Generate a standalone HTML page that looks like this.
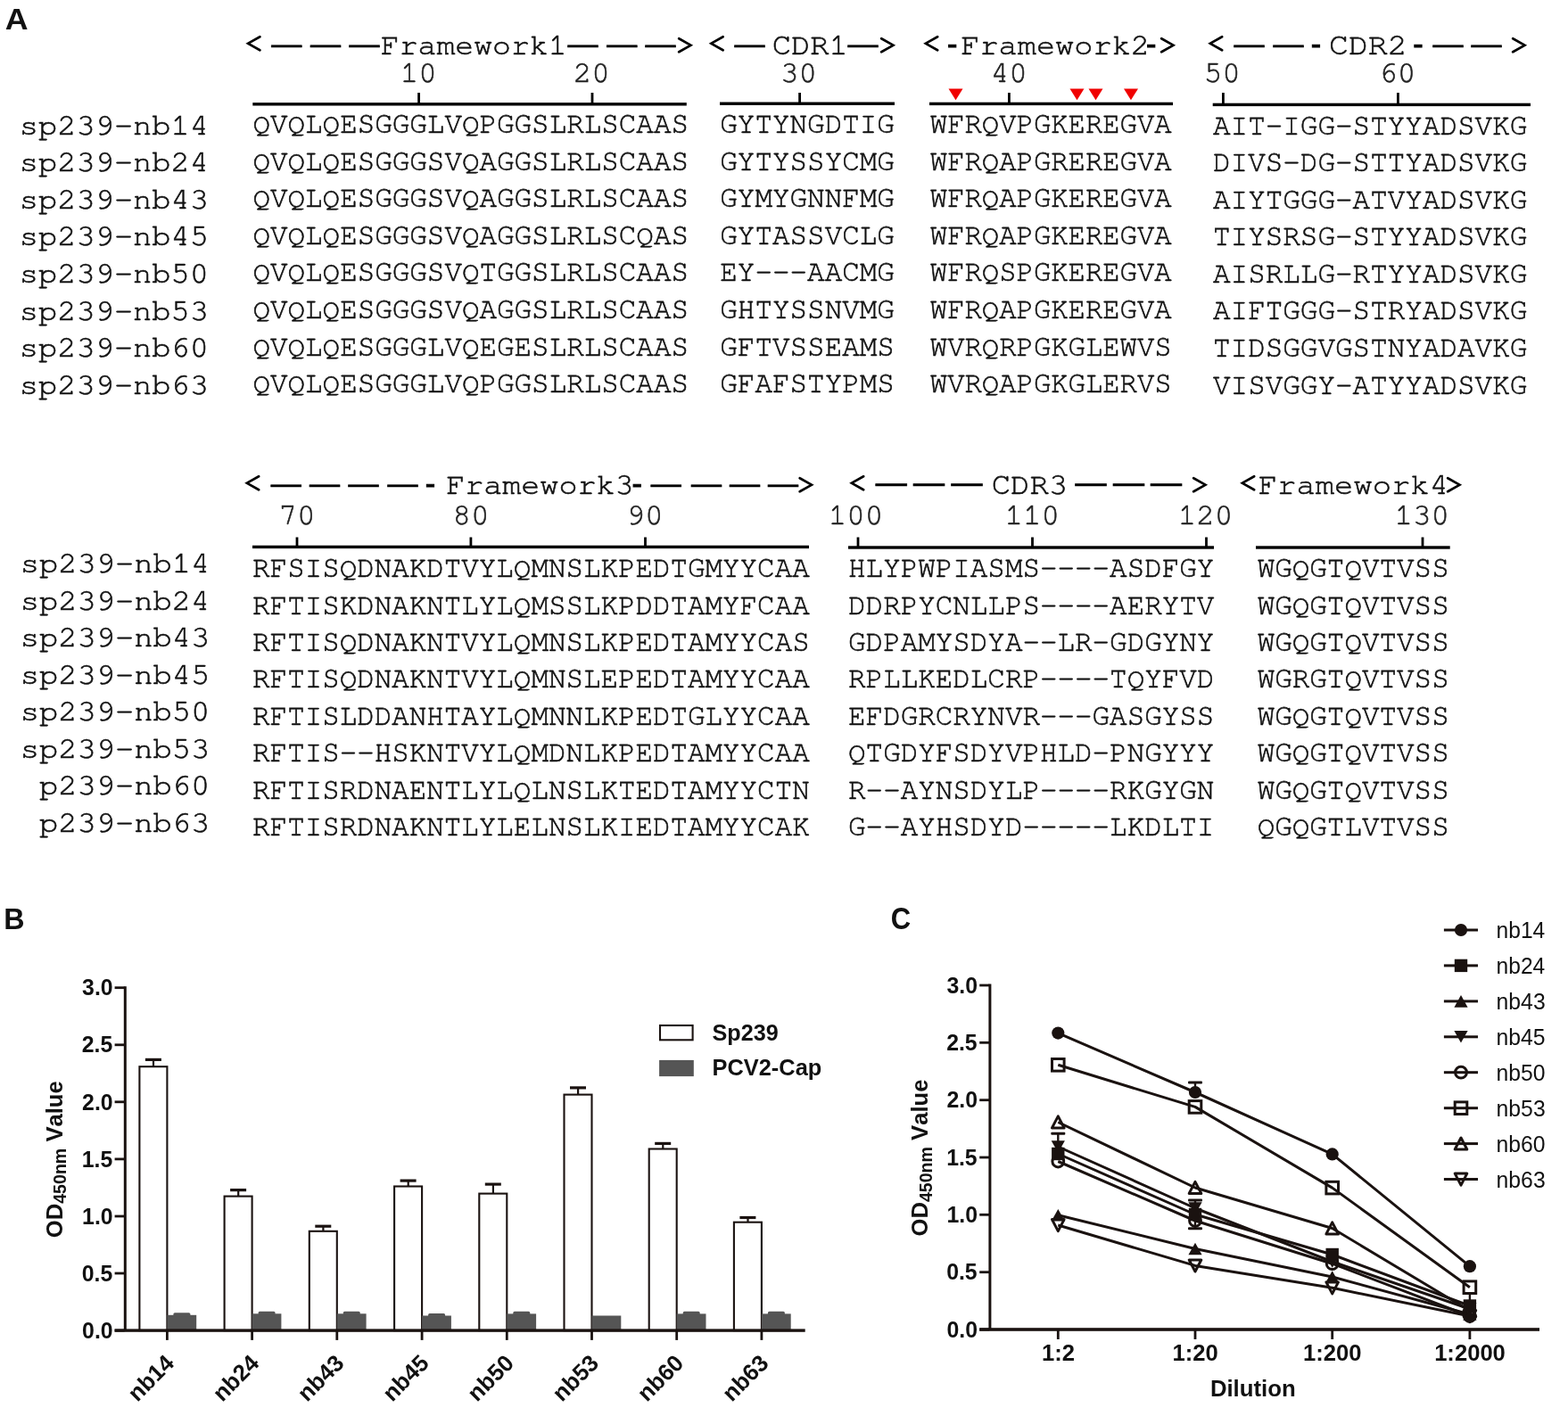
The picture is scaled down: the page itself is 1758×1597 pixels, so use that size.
<!DOCTYPE html>
<html><head><meta charset="utf-8"><title>Figure</title>
<style>html,body{margin:0;padding:0;background:#fff;}svg{display:block;}</style>
</head><body>
<svg width="1758" height="1597" viewBox="0 0 1758 1597">
<style>.m{font-family:'FreeMono','Liberation Mono',monospace;font-size-adjust:cap-height 0.563}</style>
<rect width="1758" height="1597" fill="#fff"/>
<text x="21.86" y="150.6" textLength="212.05" lengthAdjust="spacingAndGlyphs" class="m" font-size="34.2" fill="#111" stroke="#111" stroke-width="0.6">sp239-nb14</text>
<text x="21.86" y="192.2" textLength="212.05" lengthAdjust="spacingAndGlyphs" class="m" font-size="34.2" fill="#111" stroke="#111" stroke-width="0.6">sp239-nb24</text>
<text x="21.86" y="233.8" textLength="212.05" lengthAdjust="spacingAndGlyphs" class="m" font-size="34.2" fill="#111" stroke="#111" stroke-width="0.6">sp239-nb43</text>
<text x="21.86" y="275.4" textLength="212.05" lengthAdjust="spacingAndGlyphs" class="m" font-size="34.2" fill="#111" stroke="#111" stroke-width="0.6">sp239-nb45</text>
<text x="21.86" y="317.0" textLength="212.05" lengthAdjust="spacingAndGlyphs" class="m" font-size="34.2" fill="#111" stroke="#111" stroke-width="0.6">sp239-nb50</text>
<text x="21.86" y="358.6" textLength="212.05" lengthAdjust="spacingAndGlyphs" class="m" font-size="34.2" fill="#111" stroke="#111" stroke-width="0.6">sp239-nb53</text>
<text x="21.86" y="400.2" textLength="212.05" lengthAdjust="spacingAndGlyphs" class="m" font-size="34.2" fill="#111" stroke="#111" stroke-width="0.6">sp239-nb60</text>
<text x="21.86" y="441.8" textLength="212.05" lengthAdjust="spacingAndGlyphs" class="m" font-size="34.2" fill="#111" stroke="#111" stroke-width="0.6">sp239-nb63</text>
<text x="22.85" y="642.4" textLength="212.47" lengthAdjust="spacingAndGlyphs" class="m" font-size="34.2" fill="#111" stroke="#111" stroke-width="0.6">sp239-nb14</text>
<text x="22.85" y="683.9" textLength="212.47" lengthAdjust="spacingAndGlyphs" class="m" font-size="34.2" fill="#111" stroke="#111" stroke-width="0.6">sp239-nb24</text>
<text x="22.85" y="725.4" textLength="212.47" lengthAdjust="spacingAndGlyphs" class="m" font-size="34.2" fill="#111" stroke="#111" stroke-width="0.6">sp239-nb43</text>
<text x="22.85" y="766.9" textLength="212.47" lengthAdjust="spacingAndGlyphs" class="m" font-size="34.2" fill="#111" stroke="#111" stroke-width="0.6">sp239-nb45</text>
<text x="22.85" y="808.4" textLength="212.47" lengthAdjust="spacingAndGlyphs" class="m" font-size="34.2" fill="#111" stroke="#111" stroke-width="0.6">sp239-nb50</text>
<text x="22.85" y="849.9" textLength="212.47" lengthAdjust="spacingAndGlyphs" class="m" font-size="34.2" fill="#111" stroke="#111" stroke-width="0.6">sp239-nb53</text>
<text x="44.10" y="891.4" textLength="191.22" lengthAdjust="spacingAndGlyphs" class="m" font-size="34.2" fill="#111" stroke="#111" stroke-width="0.6">p239-nb60</text>
<text x="44.10" y="932.9" textLength="191.22" lengthAdjust="spacingAndGlyphs" class="m" font-size="34.2" fill="#111" stroke="#111" stroke-width="0.6">p239-nb63</text>
<text x="283.44" y="149.0" textLength="488.56" lengthAdjust="spacingAndGlyphs" class="m" font-size="33.2" fill="#111" stroke="#111" stroke-width="0.6">QVQLQESGGGLVQPGGSLRLSCAAS</text>
<text x="283.44" y="190.6" textLength="488.56" lengthAdjust="spacingAndGlyphs" class="m" font-size="33.2" fill="#111" stroke="#111" stroke-width="0.6">QVQLQESGGGSVQAGGSLRLSCAAS</text>
<text x="283.44" y="232.2" textLength="488.56" lengthAdjust="spacingAndGlyphs" class="m" font-size="33.2" fill="#111" stroke="#111" stroke-width="0.6">QVQLQESGGGSVQAGGSLRLSCAAS</text>
<text x="283.44" y="273.8" textLength="488.56" lengthAdjust="spacingAndGlyphs" class="m" font-size="33.2" fill="#111" stroke="#111" stroke-width="0.6">QVQLQESGGGSVQAGGSLRLSCQAS</text>
<text x="283.44" y="315.4" textLength="488.56" lengthAdjust="spacingAndGlyphs" class="m" font-size="33.2" fill="#111" stroke="#111" stroke-width="0.6">QVQLQESGGGSVQTGGSLRLSCAAS</text>
<text x="283.44" y="357.0" textLength="488.56" lengthAdjust="spacingAndGlyphs" class="m" font-size="33.2" fill="#111" stroke="#111" stroke-width="0.6">QVQLQESGGGSVQAGGSLRLSCAAS</text>
<text x="283.44" y="398.6" textLength="488.56" lengthAdjust="spacingAndGlyphs" class="m" font-size="33.2" fill="#111" stroke="#111" stroke-width="0.6">QVQLQESGGGLVQEGESLRLSCAAS</text>
<text x="283.44" y="440.2" textLength="488.56" lengthAdjust="spacingAndGlyphs" class="m" font-size="33.2" fill="#111" stroke="#111" stroke-width="0.6">QVQLQESGGGLVQPGGSLRLSCAAS</text>
<text x="807.25" y="149.0" textLength="195.69" lengthAdjust="spacingAndGlyphs" class="m" font-size="33.2" fill="#111" stroke="#111" stroke-width="0.6">GYTYNGDTIG</text>
<text x="807.25" y="190.6" textLength="195.69" lengthAdjust="spacingAndGlyphs" class="m" font-size="33.2" fill="#111" stroke="#111" stroke-width="0.6">GYTYSSYCMG</text>
<text x="807.25" y="232.2" textLength="195.69" lengthAdjust="spacingAndGlyphs" class="m" font-size="33.2" fill="#111" stroke="#111" stroke-width="0.6">GYMYGNNFMG</text>
<text x="807.25" y="273.8" textLength="195.69" lengthAdjust="spacingAndGlyphs" class="m" font-size="33.2" fill="#111" stroke="#111" stroke-width="0.6">GYTASSVCLG</text>
<text x="807.25" y="315.4" textLength="195.69" lengthAdjust="spacingAndGlyphs" class="m" font-size="33.2" fill="#111" stroke="#111" stroke-width="0.6">EY---AACMG</text>
<text x="807.25" y="357.0" textLength="195.69" lengthAdjust="spacingAndGlyphs" class="m" font-size="33.2" fill="#111" stroke="#111" stroke-width="0.6">GHTYSSNVMG</text>
<text x="807.25" y="398.6" textLength="195.69" lengthAdjust="spacingAndGlyphs" class="m" font-size="33.2" fill="#111" stroke="#111" stroke-width="0.6">GFTVSSEAMS</text>
<text x="807.25" y="440.2" textLength="195.69" lengthAdjust="spacingAndGlyphs" class="m" font-size="33.2" fill="#111" stroke="#111" stroke-width="0.6">GFAFSTYPMS</text>
<text x="1042.86" y="149.0" textLength="270.73" lengthAdjust="spacingAndGlyphs" class="m" font-size="33.2" fill="#111" stroke="#111" stroke-width="0.6">WFRQVPGKEREGVA</text>
<text x="1042.86" y="190.6" textLength="270.73" lengthAdjust="spacingAndGlyphs" class="m" font-size="33.2" fill="#111" stroke="#111" stroke-width="0.6">WFRQAPGREREGVA</text>
<text x="1042.86" y="232.2" textLength="270.73" lengthAdjust="spacingAndGlyphs" class="m" font-size="33.2" fill="#111" stroke="#111" stroke-width="0.6">WFRQAPGKEREGVA</text>
<text x="1042.86" y="273.8" textLength="270.73" lengthAdjust="spacingAndGlyphs" class="m" font-size="33.2" fill="#111" stroke="#111" stroke-width="0.6">WFRQAPGKEREGVA</text>
<text x="1042.86" y="315.4" textLength="270.73" lengthAdjust="spacingAndGlyphs" class="m" font-size="33.2" fill="#111" stroke="#111" stroke-width="0.6">WFRQSPGKEREGVA</text>
<text x="1042.86" y="357.0" textLength="270.73" lengthAdjust="spacingAndGlyphs" class="m" font-size="33.2" fill="#111" stroke="#111" stroke-width="0.6">WFRQAPGKEREGVA</text>
<text x="1042.86" y="398.6" textLength="270.73" lengthAdjust="spacingAndGlyphs" class="m" font-size="33.2" fill="#111" stroke="#111" stroke-width="0.6">WVRQRPGKGLEWVS</text>
<text x="1042.86" y="440.2" textLength="270.73" lengthAdjust="spacingAndGlyphs" class="m" font-size="33.2" fill="#111" stroke="#111" stroke-width="0.6">WVRQAPGKGLERVS</text>
<text x="1360.01" y="150.6" textLength="352.33" lengthAdjust="spacingAndGlyphs" class="m" font-size="33.2" fill="#111" stroke="#111" stroke-width="0.6">AIT-IGG-STYYADSVKG</text>
<text x="1360.01" y="192.2" textLength="352.33" lengthAdjust="spacingAndGlyphs" class="m" font-size="33.2" fill="#111" stroke="#111" stroke-width="0.6">DIVS-DG-STTYADSVKG</text>
<text x="1360.01" y="233.7" textLength="352.33" lengthAdjust="spacingAndGlyphs" class="m" font-size="33.2" fill="#111" stroke="#111" stroke-width="0.6">AIYTGGG-ATVYADSVKG</text>
<text x="1360.01" y="275.3" textLength="352.33" lengthAdjust="spacingAndGlyphs" class="m" font-size="33.2" fill="#111" stroke="#111" stroke-width="0.6">TIYSRSG-STYYADSVKG</text>
<text x="1360.01" y="316.9" textLength="352.33" lengthAdjust="spacingAndGlyphs" class="m" font-size="33.2" fill="#111" stroke="#111" stroke-width="0.6">AISRLLG-RTYYADSVKG</text>
<text x="1360.01" y="358.4" textLength="352.33" lengthAdjust="spacingAndGlyphs" class="m" font-size="33.2" fill="#111" stroke="#111" stroke-width="0.6">AIFTGGG-STRYADSVKG</text>
<text x="1360.01" y="400.0" textLength="352.33" lengthAdjust="spacingAndGlyphs" class="m" font-size="33.2" fill="#111" stroke="#111" stroke-width="0.6">TIDSGGVGSTNYADAVKG</text>
<text x="1360.01" y="441.6" textLength="352.33" lengthAdjust="spacingAndGlyphs" class="m" font-size="33.2" fill="#111" stroke="#111" stroke-width="0.6">VISVGGY-ATYYADSVKG</text>
<text x="283.10" y="647.1" textLength="624.59" lengthAdjust="spacingAndGlyphs" class="m" font-size="33.2" fill="#111" stroke="#111" stroke-width="0.6">RFSISQDNAKDTVYLQMNSLKPEDTGMYYCAA</text>
<text x="283.10" y="688.5" textLength="624.59" lengthAdjust="spacingAndGlyphs" class="m" font-size="33.2" fill="#111" stroke="#111" stroke-width="0.6">RFTISKDNAKNTLYLQMSSLKPDDTAMYFCAA</text>
<text x="283.10" y="729.9" textLength="624.59" lengthAdjust="spacingAndGlyphs" class="m" font-size="33.2" fill="#111" stroke="#111" stroke-width="0.6">RFTISQDNAKNTVYLQMNSLKPEDTAMYYCAS</text>
<text x="283.10" y="771.3" textLength="624.59" lengthAdjust="spacingAndGlyphs" class="m" font-size="33.2" fill="#111" stroke="#111" stroke-width="0.6">RFTISQDNAKNTVYLQMNSLEPEDTAMYYCAA</text>
<text x="283.10" y="812.7" textLength="624.59" lengthAdjust="spacingAndGlyphs" class="m" font-size="33.2" fill="#111" stroke="#111" stroke-width="0.6">RFTISLDDANHTAYLQMNNLKPEDTGLYYCAA</text>
<text x="283.10" y="854.1" textLength="624.59" lengthAdjust="spacingAndGlyphs" class="m" font-size="33.2" fill="#111" stroke="#111" stroke-width="0.6">RFTIS--HSKNTVYLQMDNLKPEDTAMYYCAA</text>
<text x="283.10" y="895.5" textLength="624.59" lengthAdjust="spacingAndGlyphs" class="m" font-size="33.2" fill="#111" stroke="#111" stroke-width="0.6">RFTISRDNAENTLYLQLNSLKTEDTAMYYCTN</text>
<text x="283.10" y="936.9" textLength="624.59" lengthAdjust="spacingAndGlyphs" class="m" font-size="33.2" fill="#111" stroke="#111" stroke-width="0.6">RFTISRDNAKNTLYLELNSLKIEDTAMYYCAK</text>
<text x="951.07" y="647.1" textLength="410.29" lengthAdjust="spacingAndGlyphs" class="m" font-size="33.2" fill="#111" stroke="#111" stroke-width="0.6">HLYPWPIASMS----ASDFGY</text>
<text x="951.07" y="688.5" textLength="410.29" lengthAdjust="spacingAndGlyphs" class="m" font-size="33.2" fill="#111" stroke="#111" stroke-width="0.6">DDRPYCNLLPS----AERYTV</text>
<text x="951.07" y="729.9" textLength="410.29" lengthAdjust="spacingAndGlyphs" class="m" font-size="33.2" fill="#111" stroke="#111" stroke-width="0.6">GDPAMYSDYA--LR-GDGYNY</text>
<text x="951.07" y="771.3" textLength="410.29" lengthAdjust="spacingAndGlyphs" class="m" font-size="33.2" fill="#111" stroke="#111" stroke-width="0.6">RPLLKEDLCRP----TQYFVD</text>
<text x="951.07" y="812.7" textLength="410.29" lengthAdjust="spacingAndGlyphs" class="m" font-size="33.2" fill="#111" stroke="#111" stroke-width="0.6">EFDGRCRYNVR---GASGYSS</text>
<text x="951.07" y="854.1" textLength="410.29" lengthAdjust="spacingAndGlyphs" class="m" font-size="33.2" fill="#111" stroke="#111" stroke-width="0.6">QTGDYFSDYVPHLD-PNGYYY</text>
<text x="951.07" y="895.5" textLength="410.29" lengthAdjust="spacingAndGlyphs" class="m" font-size="33.2" fill="#111" stroke="#111" stroke-width="0.6">R--AYNSDYLP----RKGYGN</text>
<text x="951.07" y="936.9" textLength="410.29" lengthAdjust="spacingAndGlyphs" class="m" font-size="33.2" fill="#111" stroke="#111" stroke-width="0.6">G--AYHSDYD-----LKDLTI</text>
<text x="1409.65" y="647.1" textLength="215.05" lengthAdjust="spacingAndGlyphs" class="m" font-size="33.2" fill="#111" stroke="#111" stroke-width="0.6">WGQGTQVTVSS</text>
<text x="1409.65" y="688.5" textLength="215.05" lengthAdjust="spacingAndGlyphs" class="m" font-size="33.2" fill="#111" stroke="#111" stroke-width="0.6">WGQGTQVTVSS</text>
<text x="1409.65" y="729.9" textLength="215.05" lengthAdjust="spacingAndGlyphs" class="m" font-size="33.2" fill="#111" stroke="#111" stroke-width="0.6">WGQGTQVTVSS</text>
<text x="1409.65" y="771.3" textLength="215.05" lengthAdjust="spacingAndGlyphs" class="m" font-size="33.2" fill="#111" stroke="#111" stroke-width="0.6">WGRGTQVTVSS</text>
<text x="1409.65" y="812.7" textLength="215.05" lengthAdjust="spacingAndGlyphs" class="m" font-size="33.2" fill="#111" stroke="#111" stroke-width="0.6">WGQGTQVTVSS</text>
<text x="1409.65" y="854.1" textLength="215.05" lengthAdjust="spacingAndGlyphs" class="m" font-size="33.2" fill="#111" stroke="#111" stroke-width="0.6">WGQGTQVTVSS</text>
<text x="1409.65" y="895.5" textLength="215.05" lengthAdjust="spacingAndGlyphs" class="m" font-size="33.2" fill="#111" stroke="#111" stroke-width="0.6">WGQGTQVTVSS</text>
<text x="1409.65" y="936.9" textLength="215.05" lengthAdjust="spacingAndGlyphs" class="m" font-size="33.2" fill="#111" stroke="#111" stroke-width="0.6">QGQGTLVTVSS</text>
<rect x="283.3" y="115.1" width="486.5" height="3.4" fill="#000"/>
<rect x="468.2" y="104" width="2.8" height="12.8" fill="#000"/>
<rect x="662.6" y="104" width="2.8" height="12.8" fill="#000"/>
<rect x="807.0" y="114.5" width="196.0" height="3.4" fill="#000"/>
<rect x="895.2" y="104" width="2.8" height="12.2" fill="#000"/>
<rect x="1042.0" y="114.7" width="273.0" height="3.4" fill="#000"/>
<rect x="1130.0" y="104" width="2.8" height="12.4" fill="#000"/>
<rect x="1359.7" y="115.7" width="356.3" height="3.4" fill="#000"/>
<rect x="1370.0" y="104" width="2.8" height="13.4" fill="#000"/>
<rect x="1566.0" y="104" width="2.8" height="13.4" fill="#000"/>
<rect x="283.0" y="611.7" width="624.0" height="3.4" fill="#000"/>
<rect x="331.6" y="602.5" width="2.8" height="10.9" fill="#000"/>
<rect x="526.5" y="602.5" width="2.8" height="10.9" fill="#000"/>
<rect x="722.1" y="602.5" width="2.8" height="10.9" fill="#000"/>
<rect x="951.0" y="612.3" width="410.0" height="3.4" fill="#000"/>
<rect x="960.6" y="602.5" width="2.8" height="11.5" fill="#000"/>
<rect x="1156.1" y="602.5" width="2.8" height="11.5" fill="#000"/>
<rect x="1351.1" y="602.5" width="2.8" height="11.5" fill="#000"/>
<rect x="1408.0" y="612.3" width="217.7" height="3.4" fill="#000"/>
<rect x="1593.6" y="602.5" width="2.8" height="11.5" fill="#000"/>
<text x="469.3" y="92.0" text-anchor="middle" class="m" font-size="34.2" fill="#222" stroke="#222" stroke-width="0.6">10</text>
<text x="663.3" y="92.0" text-anchor="middle" class="m" font-size="34.2" fill="#222" stroke="#222" stroke-width="0.6">20</text>
<text x="895.6" y="92.0" text-anchor="middle" class="m" font-size="34.2" fill="#222" stroke="#222" stroke-width="0.6">30</text>
<text x="1131.2" y="92.0" text-anchor="middle" class="m" font-size="34.2" fill="#222" stroke="#222" stroke-width="0.6">40</text>
<text x="1370.2" y="92.0" text-anchor="middle" class="m" font-size="34.2" fill="#222" stroke="#222" stroke-width="0.6">50</text>
<text x="1566.8" y="92.0" text-anchor="middle" class="m" font-size="34.2" fill="#222" stroke="#222" stroke-width="0.6">60</text>
<text x="333.0" y="588.3" text-anchor="middle" class="m" font-size="34.2" fill="#222" stroke="#222" stroke-width="0.6">70</text>
<text x="528.0" y="588.3" text-anchor="middle" class="m" font-size="34.2" fill="#222" stroke="#222" stroke-width="0.6">80</text>
<text x="723.0" y="588.3" text-anchor="middle" class="m" font-size="34.2" fill="#222" stroke="#222" stroke-width="0.6">90</text>
<text x="959.5" y="588.3" text-anchor="middle" class="m" font-size="34.2" fill="#222" stroke="#222" stroke-width="0.6">100</text>
<text x="1157.2" y="588.3" text-anchor="middle" class="m" font-size="34.2" fill="#222" stroke="#222" stroke-width="0.6">110</text>
<text x="1351.6" y="588.3" text-anchor="middle" class="m" font-size="34.2" fill="#222" stroke="#222" stroke-width="0.6">120</text>
<text x="1594.2" y="588.3" text-anchor="middle" class="m" font-size="34.2" fill="#222" stroke="#222" stroke-width="0.6">130</text>
<polygon points="1063.5,99.5 1079.5,99.5 1071.5,112.2" fill="#f00000"/>
<polygon points="1199.5,99.5 1215.5,99.5 1207.5,112.2" fill="#f00000"/>
<polygon points="1220.5,99.5 1236.5,99.5 1228.5,112.2" fill="#f00000"/>
<polygon points="1260.0,99.5 1276.0,99.5 1268.0,112.2" fill="#f00000"/>
<text x="274.3" y="58.7" class="m" font-size="34.3" fill="#000" stroke="#000" stroke-width="1.3">&lt;</text>
<text x="304.3" y="59.7" font-family="'Liberation Sans',Arial,sans-serif" font-size="34" fill="#000" stroke="#000" stroke-width="0.7">&#8212;</text>
<text x="347.9" y="59.7" font-family="'Liberation Sans',Arial,sans-serif" font-size="34" fill="#000" stroke="#000" stroke-width="0.7">&#8212;</text>
<text x="391.4" y="59.7" font-family="'Liberation Sans',Arial,sans-serif" font-size="34" fill="#000" stroke="#000" stroke-width="0.7">&#8212;</text>
<text x="426.80" y="60.5" textLength="208.73" lengthAdjust="spacingAndGlyphs" class="m" font-size="34.3" fill="#111" stroke="#111" stroke-width="0.6">Framework1</text>
<text x="636.4" y="59.7" font-family="'Liberation Sans',Arial,sans-serif" font-size="34" fill="#000" stroke="#000" stroke-width="0.7">&#8212;</text>
<text x="680.2" y="59.7" font-family="'Liberation Sans',Arial,sans-serif" font-size="34" fill="#000" stroke="#000" stroke-width="0.7">&#8212;</text>
<text x="723.4" y="59.7" font-family="'Liberation Sans',Arial,sans-serif" font-size="34" fill="#000" stroke="#000" stroke-width="0.7">&#8212;</text>
<text x="757.8" y="60.5" class="m" font-size="34.3" fill="#000" stroke="#000" stroke-width="1.3">&gt;</text>
<text x="793.5" y="58.7" class="m" font-size="34.3" fill="#000" stroke="#000" stroke-width="1.3">&lt;</text>
<text x="823.5" y="59.7" font-family="'Liberation Sans',Arial,sans-serif" font-size="34" fill="#000" stroke="#000" stroke-width="0.7">&#8212;</text>
<text x="865.66" y="60.5" textLength="85.25" lengthAdjust="spacingAndGlyphs" class="m" font-size="34.3" fill="#111" stroke="#111" stroke-width="0.6">CDR1</text>
<text x="950.4" y="59.7" font-family="'Liberation Sans',Arial,sans-serif" font-size="34" fill="#000" stroke="#000" stroke-width="0.7">&#8212;</text>
<text x="984.8" y="60.5" class="m" font-size="34.3" fill="#000" stroke="#000" stroke-width="1.3">&gt;</text>
<text x="1034.0" y="58.7" class="m" font-size="34.3" fill="#000" stroke="#000" stroke-width="1.3">&lt;</text>
<text x="1062.0" y="60.5" font-family="'Liberation Sans',Arial,sans-serif" font-size="34.3" fill="#000" stroke="#000" stroke-width="0.9">-</text>
<text x="1077.28" y="60.5" textLength="211.72" lengthAdjust="spacingAndGlyphs" class="m" font-size="34.3" fill="#111" stroke="#111" stroke-width="0.6">Framework2</text>
<text x="1285.0" y="60.5" font-family="'Liberation Sans',Arial,sans-serif" font-size="34.3" fill="#000" stroke="#000" stroke-width="0.9">-</text>
<text x="1298.8" y="60.5" class="m" font-size="34.3" fill="#000" stroke="#000" stroke-width="1.3">&gt;</text>
<text x="1353.1" y="58.7" class="m" font-size="34.3" fill="#000" stroke="#000" stroke-width="1.3">&lt;</text>
<text x="1383.6" y="59.7" font-family="'Liberation Sans',Arial,sans-serif" font-size="34" fill="#000" stroke="#000" stroke-width="0.7">&#8212;</text>
<text x="1427.4" y="59.7" font-family="'Liberation Sans',Arial,sans-serif" font-size="34" fill="#000" stroke="#000" stroke-width="0.7">&#8212;</text>
<text x="1469.7" y="60.5" font-family="'Liberation Sans',Arial,sans-serif" font-size="34.3" fill="#000" stroke="#000" stroke-width="0.9">-</text>
<text x="1490.00" y="60.5" textLength="87.66" lengthAdjust="spacingAndGlyphs" class="m" font-size="34.3" fill="#111" stroke="#111" stroke-width="0.6">CDR2</text>
<text x="1584.2" y="60.5" font-family="'Liberation Sans',Arial,sans-serif" font-size="34.3" fill="#000" stroke="#000" stroke-width="0.9">-</text>
<text x="1606.4" y="59.7" font-family="'Liberation Sans',Arial,sans-serif" font-size="34" fill="#000" stroke="#000" stroke-width="0.7">&#8212;</text>
<text x="1649.5" y="59.7" font-family="'Liberation Sans',Arial,sans-serif" font-size="34" fill="#000" stroke="#000" stroke-width="0.7">&#8212;</text>
<text x="1692.8" y="60.5" class="m" font-size="34.3" fill="#000" stroke="#000" stroke-width="1.3">&gt;</text>
<text x="273.1" y="552.1" class="m" font-size="34.3" fill="#000" stroke="#000" stroke-width="1.3">&lt;</text>
<text x="303.8" y="553.1" font-family="'Liberation Sans',Arial,sans-serif" font-size="34" fill="#000" stroke="#000" stroke-width="0.7">&#8212;</text>
<text x="347.0" y="553.1" font-family="'Liberation Sans',Arial,sans-serif" font-size="34" fill="#000" stroke="#000" stroke-width="0.7">&#8212;</text>
<text x="390.5" y="553.1" font-family="'Liberation Sans',Arial,sans-serif" font-size="34" fill="#000" stroke="#000" stroke-width="0.7">&#8212;</text>
<text x="434.5" y="553.1" font-family="'Liberation Sans',Arial,sans-serif" font-size="34" fill="#000" stroke="#000" stroke-width="0.7">&#8212;</text>
<text x="476.8" y="553.9" font-family="'Liberation Sans',Arial,sans-serif" font-size="34.3" fill="#000" stroke="#000" stroke-width="0.9">-</text>
<text x="500.19" y="553.9" textLength="210.35" lengthAdjust="spacingAndGlyphs" class="m" font-size="34.3" fill="#111" stroke="#111" stroke-width="0.6">Framework3</text>
<text x="708.5" y="553.9" font-family="'Liberation Sans',Arial,sans-serif" font-size="34.3" fill="#000" stroke="#000" stroke-width="0.9">-</text>
<text x="729.8" y="553.1" font-family="'Liberation Sans',Arial,sans-serif" font-size="34" fill="#000" stroke="#000" stroke-width="0.7">&#8212;</text>
<text x="775.0" y="553.1" font-family="'Liberation Sans',Arial,sans-serif" font-size="34" fill="#000" stroke="#000" stroke-width="0.7">&#8212;</text>
<text x="818.0" y="553.1" font-family="'Liberation Sans',Arial,sans-serif" font-size="34" fill="#000" stroke="#000" stroke-width="0.7">&#8212;</text>
<text x="861.0" y="553.1" font-family="'Liberation Sans',Arial,sans-serif" font-size="34" fill="#000" stroke="#000" stroke-width="0.7">&#8212;</text>
<text x="893.3" y="553.9" class="m" font-size="34.3" fill="#000" stroke="#000" stroke-width="1.3">&gt;</text>
<text x="951.0" y="552.1" class="m" font-size="34.3" fill="#000" stroke="#000" stroke-width="1.3">&lt;</text>
<text x="981.8" y="553.1" font-family="'Liberation Sans',Arial,sans-serif" font-size="35" fill="#000" stroke="#000" stroke-width="0.7">&#8212;</text>
<text x="1024.0" y="553.1" font-family="'Liberation Sans',Arial,sans-serif" font-size="35" fill="#000" stroke="#000" stroke-width="0.7">&#8212;</text>
<text x="1066.6" y="553.1" font-family="'Liberation Sans',Arial,sans-serif" font-size="35" fill="#000" stroke="#000" stroke-width="0.7">&#8212;</text>
<text x="1111.76" y="553.9" textLength="85.33" lengthAdjust="spacingAndGlyphs" class="m" font-size="34.3" fill="#111" stroke="#111" stroke-width="0.6">CDR3</text>
<text x="1205.5" y="553.1" font-family="'Liberation Sans',Arial,sans-serif" font-size="35" fill="#000" stroke="#000" stroke-width="0.7">&#8212;</text>
<text x="1248.0" y="553.1" font-family="'Liberation Sans',Arial,sans-serif" font-size="35" fill="#000" stroke="#000" stroke-width="0.7">&#8212;</text>
<text x="1290.0" y="553.1" font-family="'Liberation Sans',Arial,sans-serif" font-size="35" fill="#000" stroke="#000" stroke-width="0.7">&#8212;</text>
<text x="1334.7" y="553.9" class="m" font-size="34.3" fill="#000" stroke="#000" stroke-width="1.3">&gt;</text>
<text x="1389.1" y="552.1" class="m" font-size="34.3" fill="#000" stroke="#000" stroke-width="1.3">&lt;</text>
<text x="1410.77" y="553.9" textLength="213.26" lengthAdjust="spacingAndGlyphs" class="m" font-size="34.3" fill="#111" stroke="#111" stroke-width="0.6">Framework4</text>
<text x="1619.7" y="553.9" class="m" font-size="34.3" fill="#000" stroke="#000" stroke-width="1.3">&gt;</text>
<text x="5.71" y="32.60" textLength="25.84" lengthAdjust="spacingAndGlyphs" font-family="'Liberation Sans',Arial,sans-serif" font-weight="bold" font-size="33.8" fill="#111" style="font-kerning:none" >A</text>
<text x="4.34" y="1041.60" textLength="23.33" lengthAdjust="spacingAndGlyphs" font-family="'Liberation Sans',Arial,sans-serif" font-weight="bold" font-size="33.8" fill="#111" style="font-kerning:none" >B</text>
<text x="998.73" y="1042.20" textLength="22.42" lengthAdjust="spacingAndGlyphs" font-family="'Liberation Sans',Arial,sans-serif" font-weight="bold" font-size="34.5" fill="#111" style="font-kerning:none" >C</text>
<rect x="138.8" y="1106.2" width="3" height="385.9" fill="#1a1210"/>
<rect x="128.6" y="1490.7" width="11" height="2.8" fill="#1a1210"/>
<text x="92.10" y="1500.80" textLength="34.52" lengthAdjust="spacingAndGlyphs" font-family="'Liberation Sans',Arial,sans-serif" font-weight="bold" font-size="26.0" fill="#111" style="font-kerning:none">0.0</text>
<rect x="128.6" y="1426.6" width="11" height="2.8" fill="#1a1210"/>
<text x="91.77" y="1436.73" textLength="34.52" lengthAdjust="spacingAndGlyphs" font-family="'Liberation Sans',Arial,sans-serif" font-weight="bold" font-size="26.0" fill="#111" style="font-kerning:none">0.5</text>
<rect x="128.6" y="1362.6" width="11" height="2.8" fill="#1a1210"/>
<text x="92.10" y="1372.67" textLength="34.52" lengthAdjust="spacingAndGlyphs" font-family="'Liberation Sans',Arial,sans-serif" font-weight="bold" font-size="26.0" fill="#111" style="font-kerning:none">1.0</text>
<rect x="128.6" y="1298.5" width="11" height="2.8" fill="#1a1210"/>
<text x="91.77" y="1308.61" textLength="34.52" lengthAdjust="spacingAndGlyphs" font-family="'Liberation Sans',Arial,sans-serif" font-weight="bold" font-size="26.0" fill="#111" style="font-kerning:none">1.5</text>
<rect x="128.6" y="1234.4" width="11" height="2.8" fill="#1a1210"/>
<text x="92.10" y="1244.54" textLength="34.52" lengthAdjust="spacingAndGlyphs" font-family="'Liberation Sans',Arial,sans-serif" font-weight="bold" font-size="26.0" fill="#111" style="font-kerning:none">2.0</text>
<rect x="128.6" y="1170.4" width="11" height="2.8" fill="#1a1210"/>
<text x="91.77" y="1180.47" textLength="34.52" lengthAdjust="spacingAndGlyphs" font-family="'Liberation Sans',Arial,sans-serif" font-weight="bold" font-size="26.0" fill="#111" style="font-kerning:none">2.5</text>
<rect x="128.6" y="1106.3" width="11" height="2.8" fill="#1a1210"/>
<text x="92.10" y="1116.41" textLength="34.52" lengthAdjust="spacingAndGlyphs" font-family="'Liberation Sans',Arial,sans-serif" font-weight="bold" font-size="26.0" fill="#111" style="font-kerning:none">3.0</text>
<rect x="186.0" y="1492.1" width="2.8" height="10.8" fill="#1a1210"/>
<rect x="156.4" y="1196.2" width="31" height="295.9" fill="#fff" stroke="#1a1210" stroke-width="2.1"/>
<rect x="170.9" y="1188.3" width="2.2" height="7.9" fill="#1a1210"/>
<rect x="162.9" y="1186.8" width="18" height="3.2" fill="#1a1210"/>
<rect x="187.4" y="1474.8" width="32.8" height="17.3" fill="#555"/>
<rect x="194.4" y="1472.2" width="19" height="4" rx="1.6" fill="#555"/>
<text transform="translate(196.7,1530.2) rotate(-45)" text-anchor="end" font-family="'Liberation Sans',Arial,sans-serif" font-weight="bold" font-size="25.9" fill="#111">nb14</text>
<rect x="281.2" y="1492.1" width="2.8" height="10.8" fill="#1a1210"/>
<rect x="251.6" y="1341.6" width="31" height="150.5" fill="#fff" stroke="#1a1210" stroke-width="2.1"/>
<rect x="266.1" y="1334.5" width="2.2" height="7.1" fill="#1a1210"/>
<rect x="258.1" y="1333.0" width="18" height="3.2" fill="#1a1210"/>
<rect x="282.6" y="1473.3" width="32.8" height="18.8" fill="#555"/>
<rect x="289.6" y="1470.7" width="19" height="4" rx="1.6" fill="#555"/>
<text transform="translate(291.9,1530.2) rotate(-45)" text-anchor="end" font-family="'Liberation Sans',Arial,sans-serif" font-weight="bold" font-size="25.9" fill="#111">nb24</text>
<rect x="376.4" y="1492.1" width="2.8" height="10.8" fill="#1a1210"/>
<rect x="346.8" y="1380.8" width="31" height="111.3" fill="#fff" stroke="#1a1210" stroke-width="2.1"/>
<rect x="361.3" y="1375.1" width="2.2" height="5.7" fill="#1a1210"/>
<rect x="353.3" y="1373.6" width="18" height="3.2" fill="#1a1210"/>
<rect x="377.8" y="1473.3" width="32.8" height="18.8" fill="#555"/>
<rect x="384.8" y="1470.7" width="19" height="4" rx="1.6" fill="#555"/>
<text transform="translate(387.1,1530.2) rotate(-45)" text-anchor="end" font-family="'Liberation Sans',Arial,sans-serif" font-weight="bold" font-size="25.9" fill="#111">nb43</text>
<rect x="471.7" y="1492.1" width="2.8" height="10.8" fill="#1a1210"/>
<rect x="442.1" y="1330.5" width="31" height="161.6" fill="#fff" stroke="#1a1210" stroke-width="2.1"/>
<rect x="456.6" y="1324.0" width="2.2" height="6.5" fill="#1a1210"/>
<rect x="448.6" y="1322.5" width="18" height="3.2" fill="#1a1210"/>
<rect x="473.1" y="1475.5" width="32.8" height="16.6" fill="#555"/>
<rect x="480.1" y="1472.9" width="19" height="4" rx="1.6" fill="#555"/>
<text transform="translate(482.4,1530.2) rotate(-45)" text-anchor="end" font-family="'Liberation Sans',Arial,sans-serif" font-weight="bold" font-size="25.9" fill="#111">nb45</text>
<rect x="566.9" y="1492.1" width="2.8" height="10.8" fill="#1a1210"/>
<rect x="537.3" y="1338.6" width="31" height="153.5" fill="#fff" stroke="#1a1210" stroke-width="2.1"/>
<rect x="551.8" y="1328.0" width="2.2" height="10.6" fill="#1a1210"/>
<rect x="543.8" y="1326.5" width="18" height="3.2" fill="#1a1210"/>
<rect x="568.3" y="1473.4" width="32.8" height="18.7" fill="#555"/>
<rect x="575.3" y="1470.8" width="19" height="4" rx="1.6" fill="#555"/>
<text transform="translate(577.6,1530.2) rotate(-45)" text-anchor="end" font-family="'Liberation Sans',Arial,sans-serif" font-weight="bold" font-size="25.9" fill="#111">nb50</text>
<rect x="662.1" y="1492.1" width="2.8" height="10.8" fill="#1a1210"/>
<rect x="632.5" y="1227.6" width="31" height="264.5" fill="#fff" stroke="#1a1210" stroke-width="2.1"/>
<rect x="647.0" y="1219.8" width="2.2" height="7.8" fill="#1a1210"/>
<rect x="639.0" y="1218.3" width="18" height="3.2" fill="#1a1210"/>
<rect x="663.5" y="1475.5" width="32.8" height="16.6" fill="#555"/>
<text transform="translate(672.8,1530.2) rotate(-45)" text-anchor="end" font-family="'Liberation Sans',Arial,sans-serif" font-weight="bold" font-size="25.9" fill="#111">nb53</text>
<rect x="757.3" y="1492.1" width="2.8" height="10.8" fill="#1a1210"/>
<rect x="727.7" y="1288.5" width="31" height="203.6" fill="#fff" stroke="#1a1210" stroke-width="2.1"/>
<rect x="742.2" y="1282.3" width="2.2" height="6.2" fill="#1a1210"/>
<rect x="734.2" y="1280.8" width="18" height="3.2" fill="#1a1210"/>
<rect x="758.7" y="1473.4" width="32.8" height="18.7" fill="#555"/>
<rect x="765.7" y="1470.8" width="19" height="4" rx="1.6" fill="#555"/>
<text transform="translate(768.0,1530.2) rotate(-45)" text-anchor="end" font-family="'Liberation Sans',Arial,sans-serif" font-weight="bold" font-size="25.9" fill="#111">nb60</text>
<rect x="852.5" y="1492.1" width="2.8" height="10.8" fill="#1a1210"/>
<rect x="822.9" y="1370.7" width="31" height="121.4" fill="#fff" stroke="#1a1210" stroke-width="2.1"/>
<rect x="837.4" y="1365.4" width="2.2" height="5.3" fill="#1a1210"/>
<rect x="829.4" y="1363.9" width="18" height="3.2" fill="#1a1210"/>
<rect x="853.9" y="1473.4" width="32.8" height="18.7" fill="#555"/>
<rect x="860.9" y="1470.8" width="19" height="4" rx="1.6" fill="#555"/>
<text transform="translate(863.2,1530.2) rotate(-45)" text-anchor="end" font-family="'Liberation Sans',Arial,sans-serif" font-weight="bold" font-size="25.9" fill="#111">nb63</text>
<rect x="128.6" y="1490.4" width="774.1" height="3.4" fill="#1a1210"/>
<rect x="740" y="1150" width="36.6" height="16.3" fill="#fff" stroke="#1a1210" stroke-width="2.1"/>
<rect x="739.1" y="1188.9" width="38.7" height="18.2" fill="#555"/>
<text x="798.47" y="1166.60" textLength="74.26" lengthAdjust="spacingAndGlyphs" font-family="'Liberation Sans',Arial,sans-serif" font-weight="bold" font-size="25.6" fill="#111" style="font-kerning:none" >Sp239</text>
<text x="798.60" y="1206.00" textLength="122.64" lengthAdjust="spacingAndGlyphs" font-family="'Liberation Sans',Arial,sans-serif" font-weight="bold" font-size="25.6" fill="#111" style="font-kerning:none" >PCV2-Cap</text>
<text transform="translate(69.8,1388.2) rotate(-90)" font-family="'Liberation Sans',Arial,sans-serif" font-weight="bold" font-size="25.6" fill="#111" style="font-kerning:none">OD<tspan font-size="19.6" dy="4.2">450nm</tspan><tspan dy="-4.2"> Value</tspan></text>
<rect x="1108.4" y="1103.5" width="3" height="387.5" fill="#1a1210"/>
<rect x="1098.2" y="1489.6" width="11" height="2.8" fill="#1a1210"/>
<text x="1061.50" y="1499.60" textLength="34.52" lengthAdjust="spacingAndGlyphs" font-family="'Liberation Sans',Arial,sans-serif" font-weight="bold" font-size="26.0" fill="#111" style="font-kerning:none">0.0</text>
<rect x="1098.2" y="1425.3" width="11" height="2.8" fill="#1a1210"/>
<text x="1061.17" y="1435.26" textLength="34.52" lengthAdjust="spacingAndGlyphs" font-family="'Liberation Sans',Arial,sans-serif" font-weight="bold" font-size="26.0" fill="#111" style="font-kerning:none">0.5</text>
<rect x="1098.2" y="1360.9" width="11" height="2.8" fill="#1a1210"/>
<text x="1061.50" y="1370.93" textLength="34.52" lengthAdjust="spacingAndGlyphs" font-family="'Liberation Sans',Arial,sans-serif" font-weight="bold" font-size="26.0" fill="#111" style="font-kerning:none">1.0</text>
<rect x="1098.2" y="1296.6" width="11" height="2.8" fill="#1a1210"/>
<text x="1061.17" y="1306.59" textLength="34.52" lengthAdjust="spacingAndGlyphs" font-family="'Liberation Sans',Arial,sans-serif" font-weight="bold" font-size="26.0" fill="#111" style="font-kerning:none">1.5</text>
<rect x="1098.2" y="1232.3" width="11" height="2.8" fill="#1a1210"/>
<text x="1061.50" y="1242.26" textLength="34.52" lengthAdjust="spacingAndGlyphs" font-family="'Liberation Sans',Arial,sans-serif" font-weight="bold" font-size="26.0" fill="#111" style="font-kerning:none">2.0</text>
<rect x="1098.2" y="1167.9" width="11" height="2.8" fill="#1a1210"/>
<text x="1061.17" y="1177.92" textLength="34.52" lengthAdjust="spacingAndGlyphs" font-family="'Liberation Sans',Arial,sans-serif" font-weight="bold" font-size="26.0" fill="#111" style="font-kerning:none">2.5</text>
<rect x="1098.2" y="1103.6" width="11" height="2.8" fill="#1a1210"/>
<text x="1061.50" y="1113.59" textLength="34.52" lengthAdjust="spacingAndGlyphs" font-family="'Liberation Sans',Arial,sans-serif" font-weight="bold" font-size="26.0" fill="#111" style="font-kerning:none">3.0</text>
<rect x="1184.9" y="1491.0" width="2.8" height="11" fill="#1a1210"/>
<text x="1167.90" y="1526.00" textLength="37.02" lengthAdjust="spacingAndGlyphs" font-family="'Liberation Sans',Arial,sans-serif" font-weight="bold" font-size="26.0" fill="#111" style="font-kerning:none">1:2</text>
<rect x="1338.6" y="1491.0" width="2.8" height="11" fill="#1a1210"/>
<text x="1314.49" y="1526.00" textLength="51.26" lengthAdjust="spacingAndGlyphs" font-family="'Liberation Sans',Arial,sans-serif" font-weight="bold" font-size="26.0" fill="#111" style="font-kerning:none">1:20</text>
<rect x="1492.3" y="1491.0" width="2.8" height="11" fill="#1a1210"/>
<text x="1461.07" y="1526.00" textLength="65.51" lengthAdjust="spacingAndGlyphs" font-family="'Liberation Sans',Arial,sans-serif" font-weight="bold" font-size="26.0" fill="#111" style="font-kerning:none">1:200</text>
<rect x="1646.5" y="1491.0" width="2.8" height="11" fill="#1a1210"/>
<text x="1608.14" y="1526.00" textLength="79.75" lengthAdjust="spacingAndGlyphs" font-family="'Liberation Sans',Arial,sans-serif" font-weight="bold" font-size="26.0" fill="#111" style="font-kerning:none">1:2000</text>
<rect x="1098.2" y="1489.2" width="627.8" height="3.6" fill="#1a1210"/>
<text x="1356.88" y="1565.50" textLength="95.82" lengthAdjust="spacingAndGlyphs" font-family="'Liberation Sans',Arial,sans-serif" font-weight="bold" font-size="26.0" fill="#111" style="font-kerning:none" >Dilution</text>
<text transform="translate(1040.3,1386.5) rotate(-90)" font-family="'Liberation Sans',Arial,sans-serif" font-weight="bold" font-size="25.6" fill="#111" style="font-kerning:none">OD<tspan font-size="19.6" dy="4.2">450nm</tspan><tspan dy="-4.2"> Value</tspan></text>
<polyline points="1186.3,1158.6 1340.0,1225.0 1493.7,1294.4 1647.9,1420.2" fill="none" stroke="#1a1210" stroke-width="3" stroke-linejoin="round"/>
<polyline points="1186.3,1294.0 1340.0,1362.0 1493.7,1407.0 1647.9,1464.5" fill="none" stroke="#1a1210" stroke-width="3" stroke-linejoin="round"/>
<polyline points="1186.3,1362.8 1340.0,1400.5 1493.7,1432.0 1647.9,1474.0" fill="none" stroke="#1a1210" stroke-width="3" stroke-linejoin="round"/>
<polyline points="1186.3,1286.0 1340.0,1355.0 1493.7,1415.0 1647.9,1468.0" fill="none" stroke="#1a1210" stroke-width="3" stroke-linejoin="round"/>
<polyline points="1186.3,1302.5 1340.0,1369.0 1493.7,1417.2 1647.9,1476.0" fill="none" stroke="#1a1210" stroke-width="3" stroke-linejoin="round"/>
<polyline points="1186.3,1194.3 1340.0,1241.4 1493.7,1332.1 1647.9,1443.7" fill="none" stroke="#1a1210" stroke-width="3" stroke-linejoin="round"/>
<polyline points="1186.3,1258.5 1340.0,1332.0 1493.7,1377.5 1647.9,1470.0" fill="none" stroke="#1a1210" stroke-width="3" stroke-linejoin="round"/>
<polyline points="1186.3,1374.0 1340.0,1419.4 1493.7,1444.3 1647.9,1476.0" fill="none" stroke="#1a1210" stroke-width="3" stroke-linejoin="round"/>
<rect x="1185.1" y="1271.3" width="2.4" height="14.7" fill="#1a1210"/>
<rect x="1178.3" y="1269.8" width="16" height="3" rx="1" fill="#1a1210"/>
<rect x="1338.8" y="1214.0" width="2.4" height="11.0" fill="#1a1210"/>
<rect x="1332.0" y="1212.5" width="16" height="3" rx="1" fill="#1a1210"/>
<rect x="1338.8" y="1346.0" width="2.4" height="9.0" fill="#1a1210"/>
<rect x="1332.0" y="1344.5" width="16" height="3" rx="1" fill="#1a1210"/>
<rect x="1338.8" y="1369.0" width="2.4" height="8.7" fill="#1a1210"/>
<rect x="1332.0" y="1376.2" width="16" height="3" rx="1" fill="#1a1210"/>
<rect x="1646.7" y="1450" width="2.4" height="9" fill="#1a1210"/>
<polygon points="1179.5,1367.6 1193.1,1367.6 1186.3,1380.6" fill="none" stroke="#1a1210" stroke-width="3" stroke-linejoin="round"/>
<polygon points="1333.2,1413.0 1346.8,1413.0 1340.0,1426.0" fill="none" stroke="#1a1210" stroke-width="3" stroke-linejoin="round"/>
<polygon points="1486.9,1437.9 1500.5,1437.9 1493.7,1450.9" fill="none" stroke="#1a1210" stroke-width="3" stroke-linejoin="round"/>
<polygon points="1641.1,1469.6 1654.7,1469.6 1647.9,1482.6" fill="none" stroke="#1a1210" stroke-width="3" stroke-linejoin="round"/>
<polygon points="1179.5,1264.9 1193.1,1264.9 1186.3,1251.9" fill="none" stroke="#1a1210" stroke-width="3" stroke-linejoin="round"/>
<polygon points="1333.2,1338.4 1346.8,1338.4 1340.0,1325.4" fill="none" stroke="#1a1210" stroke-width="3" stroke-linejoin="round"/>
<polygon points="1486.9,1383.9 1500.5,1383.9 1493.7,1370.9" fill="none" stroke="#1a1210" stroke-width="3" stroke-linejoin="round"/>
<polygon points="1641.1,1476.4 1654.7,1476.4 1647.9,1463.4" fill="none" stroke="#1a1210" stroke-width="3" stroke-linejoin="round"/>
<rect x="1179.5" y="1187.5" width="13.6" height="13.6" fill="none" stroke="#1a1210" stroke-width="3"/>
<rect x="1333.2" y="1234.6" width="13.6" height="13.6" fill="none" stroke="#1a1210" stroke-width="3"/>
<rect x="1486.9" y="1325.3" width="13.6" height="13.6" fill="none" stroke="#1a1210" stroke-width="3"/>
<rect x="1641.1" y="1436.9" width="13.6" height="13.6" fill="none" stroke="#1a1210" stroke-width="3"/>
<circle cx="1186.3" cy="1302.5" r="6.4" fill="none" stroke="#1a1210" stroke-width="3"/>
<circle cx="1340.0" cy="1369.0" r="6.4" fill="none" stroke="#1a1210" stroke-width="3"/>
<circle cx="1493.7" cy="1417.2" r="6.4" fill="none" stroke="#1a1210" stroke-width="3"/>
<circle cx="1647.9" cy="1476.0" r="6.4" fill="none" stroke="#1a1210" stroke-width="3"/>
<polygon points="1178.7,1279.2 1193.9,1279.2 1186.3,1292.8" fill="#1a1210"/>
<polygon points="1332.4,1348.2 1347.6,1348.2 1340.0,1361.8" fill="#1a1210"/>
<polygon points="1486.1,1408.2 1501.3,1408.2 1493.7,1421.8" fill="#1a1210"/>
<polygon points="1640.3,1461.2 1655.5,1461.2 1647.9,1474.8" fill="#1a1210"/>
<polygon points="1178.7,1369.6 1193.9,1369.6 1186.3,1356.0" fill="#1a1210"/>
<polygon points="1332.4,1407.3 1347.6,1407.3 1340.0,1393.7" fill="#1a1210"/>
<polygon points="1486.1,1438.8 1501.3,1438.8 1493.7,1425.2" fill="#1a1210"/>
<polygon points="1640.3,1480.8 1655.5,1480.8 1647.9,1467.2" fill="#1a1210"/>
<rect x="1179.1" y="1286.8" width="14.4" height="14.4" fill="#1a1210"/>
<rect x="1332.8" y="1354.8" width="14.4" height="14.4" fill="#1a1210"/>
<rect x="1486.5" y="1399.8" width="14.4" height="14.4" fill="#1a1210"/>
<rect x="1640.7" y="1457.3" width="14.4" height="14.4" fill="#1a1210"/>
<circle cx="1186.3" cy="1158.6" r="7.1" fill="#1a1210"/>
<circle cx="1340.0" cy="1225.0" r="7.1" fill="#1a1210"/>
<circle cx="1493.7" cy="1294.4" r="7.1" fill="#1a1210"/>
<circle cx="1647.9" cy="1420.2" r="7.1" fill="#1a1210"/>
<rect x="1618.9" y="1041.5" width="38.1" height="3" fill="#1a1210"/>
<circle cx="1638.0" cy="1043.0" r="7.1" fill="#1a1210"/>
<text x="1677.57" y="1052.00" textLength="54.76" lengthAdjust="spacingAndGlyphs" font-family="'Liberation Sans',Arial,sans-serif" font-weight="normal" font-size="25.2" fill="#111" style="font-kerning:none" >nb14</text>
<rect x="1618.9" y="1081.4" width="38.1" height="3" fill="#1a1210"/>
<rect x="1630.8" y="1075.7" width="14.4" height="14.4" fill="#1a1210"/>
<text x="1677.57" y="1091.93" textLength="54.76" lengthAdjust="spacingAndGlyphs" font-family="'Liberation Sans',Arial,sans-serif" font-weight="normal" font-size="25.2" fill="#111" style="font-kerning:none" >nb24</text>
<rect x="1618.9" y="1121.4" width="38.1" height="3" fill="#1a1210"/>
<polygon points="1630.4,1129.7 1645.6,1129.7 1638.0,1116.1" fill="#1a1210"/>
<text x="1677.55" y="1131.86" textLength="55.14" lengthAdjust="spacingAndGlyphs" font-family="'Liberation Sans',Arial,sans-serif" font-weight="normal" font-size="25.2" fill="#111" style="font-kerning:none" >nb43</text>
<rect x="1618.9" y="1161.3" width="38.1" height="3" fill="#1a1210"/>
<polygon points="1630.4,1156.0 1645.6,1156.0 1638.0,1169.6" fill="#1a1210"/>
<text x="1677.56" y="1171.79" textLength="55.08" lengthAdjust="spacingAndGlyphs" font-family="'Liberation Sans',Arial,sans-serif" font-weight="normal" font-size="25.2" fill="#111" style="font-kerning:none" >nb45</text>
<rect x="1618.9" y="1201.2" width="38.1" height="3" fill="#1a1210"/>
<circle cx="1638.0" cy="1202.7" r="6.4" fill="none" stroke="#1a1210" stroke-width="3"/>
<text x="1677.56" y="1211.72" textLength="55.01" lengthAdjust="spacingAndGlyphs" font-family="'Liberation Sans',Arial,sans-serif" font-weight="normal" font-size="25.2" fill="#111" style="font-kerning:none" >nb50</text>
<rect x="1618.9" y="1241.2" width="38.1" height="3" fill="#1a1210"/>
<rect x="1631.2" y="1235.9" width="13.6" height="13.6" fill="none" stroke="#1a1210" stroke-width="3"/>
<text x="1677.55" y="1251.65" textLength="55.14" lengthAdjust="spacingAndGlyphs" font-family="'Liberation Sans',Arial,sans-serif" font-weight="normal" font-size="25.2" fill="#111" style="font-kerning:none" >nb53</text>
<rect x="1618.9" y="1281.1" width="38.1" height="3" fill="#1a1210"/>
<polygon points="1631.2,1289.0 1644.8,1289.0 1638.0,1276.0" fill="none" stroke="#1a1210" stroke-width="3" stroke-linejoin="round"/>
<text x="1677.56" y="1291.58" textLength="55.01" lengthAdjust="spacingAndGlyphs" font-family="'Liberation Sans',Arial,sans-serif" font-weight="normal" font-size="25.2" fill="#111" style="font-kerning:none" >nb60</text>
<rect x="1618.9" y="1321.0" width="38.1" height="3" fill="#1a1210"/>
<polygon points="1631.2,1316.1 1644.8,1316.1 1638.0,1329.1" fill="none" stroke="#1a1210" stroke-width="3" stroke-linejoin="round"/>
<text x="1677.55" y="1331.51" textLength="55.14" lengthAdjust="spacingAndGlyphs" font-family="'Liberation Sans',Arial,sans-serif" font-weight="normal" font-size="25.2" fill="#111" style="font-kerning:none" >nb63</text>
</svg>
</body></html>
